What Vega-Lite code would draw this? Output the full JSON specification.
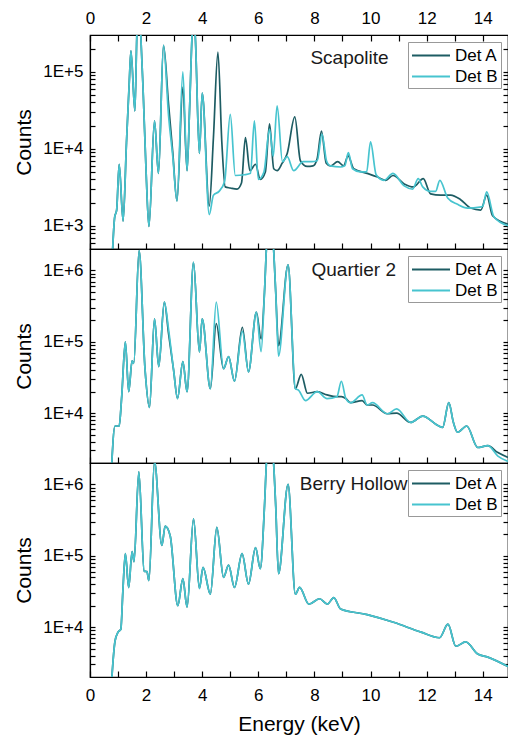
{
"$schema": "https://vega.github.io/schema/vega-lite/v6.json",
"padding": {"left": 13, "top": 8, "right": 0, "bottom": 0},
"autosize": {"type": "pad"},
"spacing": 0,
"bounds": "flush",
"config": {
  "font": "Liberation Sans",
  "view": {"stroke": "black", "strokeWidth": 1.2},
  "axis": {"grid": false, "domainColor": "black", "domainWidth": 1.2, "tickColor": "black", "tickWidth": 1.2, "labelColor": "black", "titleColor": "black", "labelFont": "Liberation Sans", "titleFont": "Liberation Sans", "titleFontWeight": "normal", "labelFontSize": 17, "labelFlush": false, "labelOverlap": false, "labelBound": false},
  "legend": {"labelFont": "Liberation Sans"}
},
"datasets": {
"scap": [
{"d":"Det A","E":0.78,"c":300},{"d":"Det A","E":0.88,"c":1300},{"d":"Det A","E":0.95,"c":1600},{"d":"Det A","E":1.04,"c":6300},{"d":"Det A","E":1.18,"c":1150},{"d":"Det A","E":1.3,"c":12000},{"d":"Det A","E":1.4,"c":74000},{"d":"Det A","E":1.46,"c":187000},{"d":"Det A","E":1.6,"c":31000},{"d":"Det A","E":1.67,"c":300000},{"d":"Det A","E":1.74,"c":700000},{"d":"Det A","E":1.81,"c":300000},{"d":"Det A","E":1.9,"c":50000},{"d":"Det A","E":2.0,"c":5000},{"d":"Det A","E":2.1,"c":980},{"d":"Det A","E":2.3,"c":23000},{"d":"Det A","E":2.44,"c":4800},{"d":"Det A","E":2.62,"c":220000},{"d":"Det A","E":2.8,"c":38000},{"d":"Det A","E":2.95,"c":9000},{"d":"Det A","E":3.1,"c":2100},{"d":"Det A","E":3.31,"c":63000},{"d":"Det A","E":3.46,"c":5200},{"d":"Det A","E":3.55,"c":33000},{"d":"Det A","E":3.64,"c":300000},{"d":"Det A","E":3.69,"c":500000},{"d":"Det A","E":3.75,"c":300000},{"d":"Det A","E":3.9,"c":8700},{"d":"Det A","E":4.0,"c":53000},{"d":"Det A","E":4.25,"c":1800},{"d":"Det A","E":4.4,"c":14000},{"d":"Det A","E":4.56,"c":180000},{"d":"Det A","E":4.7,"c":12000},{"d":"Det A","E":4.82,"c":3200},{"d":"Det A","E":5.0,"c":3100},{"d":"Det A","E":5.24,"c":3000},{"d":"Det A","E":5.4,"c":3600},{"d":"Det A","E":5.54,"c":14000},{"d":"Det A","E":5.7,"c":5200},{"d":"Det A","E":5.9,"c":6300},{"d":"Det A","E":6.07,"c":4000},{"d":"Det A","E":6.25,"c":5000},{"d":"Det A","E":6.4,"c":21000},{"d":"Det A","E":6.55,"c":5500},{"d":"Det A","E":6.67,"c":5200},{"d":"Det A","E":6.85,"c":6500},{"d":"Det A","E":7.03,"c":8700},{"d":"Det A","E":7.3,"c":26000},{"d":"Det A","E":7.5,"c":7000},{"d":"Det A","E":7.74,"c":5900},{"d":"Det A","E":7.95,"c":6000},{"d":"Det A","E":8.1,"c":7500},{"d":"Det A","E":8.25,"c":17000},{"d":"Det A","E":8.42,"c":6500},{"d":"Det A","E":8.57,"c":6000},{"d":"Det A","E":8.83,"c":6800},{"d":"Det A","E":9.04,"c":6000},{"d":"Det A","E":9.2,"c":8100},{"d":"Det A","E":9.4,"c":5500},{"d":"Det A","E":9.88,"c":4800},{"d":"Det A","E":10.25,"c":4300},{"d":"Det A","E":10.54,"c":3900},{"d":"Det A","E":10.8,"c":4500},{"d":"Det A","E":11.2,"c":3500},{"d":"Det A","E":11.53,"c":3200},{"d":"Det A","E":11.88,"c":4100},{"d":"Det A","E":12.14,"c":2600},{"d":"Det A","E":12.5,"c":2500},{"d":"Det A","E":12.86,"c":2500},{"d":"Det A","E":13.2,"c":2200},{"d":"Det A","E":13.57,"c":1700},{"d":"Det A","E":13.93,"c":1600},{"d":"Det A","E":14.14,"c":2500},{"d":"Det A","E":14.35,"c":1350},{"d":"Det A","E":14.9,"c":1050},
{"d":"Det B","E":0.78,"c":300},{"d":"Det B","E":0.88,"c":1300},{"d":"Det B","E":0.95,"c":1600},{"d":"Det B","E":1.04,"c":6300},{"d":"Det B","E":1.18,"c":1150},{"d":"Det B","E":1.3,"c":12000},{"d":"Det B","E":1.4,"c":74000},{"d":"Det B","E":1.46,"c":187000},{"d":"Det B","E":1.6,"c":31000},{"d":"Det B","E":1.67,"c":300000},{"d":"Det B","E":1.74,"c":700000},{"d":"Det B","E":1.81,"c":300000},{"d":"Det B","E":1.9,"c":50000},{"d":"Det B","E":2.0,"c":5000},{"d":"Det B","E":2.1,"c":980},{"d":"Det B","E":2.3,"c":23000},{"d":"Det B","E":2.44,"c":4800},{"d":"Det B","E":2.62,"c":220000},{"d":"Det B","E":2.8,"c":27000},{"d":"Det B","E":2.95,"c":8000},{"d":"Det B","E":3.1,"c":2100},{"d":"Det B","E":3.31,"c":100000},{"d":"Det B","E":3.46,"c":5200},{"d":"Det B","E":3.55,"c":33000},{"d":"Det B","E":3.64,"c":300000},{"d":"Det B","E":3.69,"c":500000},{"d":"Det B","E":3.75,"c":300000},{"d":"Det B","E":3.9,"c":8700},{"d":"Det B","E":4.0,"c":53000},{"d":"Det B","E":4.25,"c":1400},{"d":"Det B","E":4.4,"c":2500},{"d":"Det B","E":4.6,"c":2800},{"d":"Det B","E":4.8,"c":3800},{"d":"Det B","E":5.0,"c":28000},{"d":"Det B","E":5.18,"c":4500},{"d":"Det B","E":5.5,"c":4600},{"d":"Det B","E":5.72,"c":4800},{"d":"Det B","E":5.86,"c":23000},{"d":"Det B","E":6.0,"c":4000},{"d":"Det B","E":6.2,"c":5000},{"d":"Det B","E":6.4,"c":18000},{"d":"Det B","E":6.53,"c":8000},{"d":"Det B","E":6.67,"c":36000},{"d":"Det B","E":6.86,"c":6800},{"d":"Det B","E":7.03,"c":7900},{"d":"Det B","E":7.26,"c":5200},{"d":"Det B","E":7.6,"c":6800},{"d":"Det B","E":7.9,"c":6800},{"d":"Det B","E":8.1,"c":7000},{"d":"Det B","E":8.27,"c":15500},{"d":"Det B","E":8.43,"c":7000},{"d":"Det B","E":8.57,"c":6000},{"d":"Det B","E":8.93,"c":5800},{"d":"Det B","E":9.08,"c":6000},{"d":"Det B","E":9.21,"c":8900},{"d":"Det B","E":9.36,"c":5500},{"d":"Det B","E":9.64,"c":5000},{"d":"Det B","E":9.86,"c":5000},{"d":"Det B","E":10.0,"c":12300},{"d":"Det B","E":10.2,"c":4600},{"d":"Det B","E":10.48,"c":3900},{"d":"Det B","E":10.8,"c":4800},{"d":"Det B","E":11.2,"c":3300},{"d":"Det B","E":11.5,"c":3000},{"d":"Det B","E":11.7,"c":4100},{"d":"Det B","E":11.86,"c":3200},{"d":"Det B","E":12.14,"c":2800},{"d":"Det B","E":12.32,"c":2800},{"d":"Det B","E":12.47,"c":3900},{"d":"Det B","E":12.75,"c":2300},{"d":"Det B","E":13.1,"c":1900},{"d":"Det B","E":13.46,"c":1700},{"d":"Det B","E":13.9,"c":1750},{"d":"Det B","E":14.0,"c":1800},{"d":"Det B","E":14.14,"c":2750},{"d":"Det B","E":14.4,"c":1300},{"d":"Det B","E":14.9,"c":1000}
],
"quart": [
{"d":"Det A","E":0.76,"c":1500},{"d":"Det A","E":0.89,"c":6600},{"d":"Det A","E":1.04,"c":6600},{"d":"Det A","E":1.13,"c":17000},{"d":"Det A","E":1.26,"c":100000},{"d":"Det A","E":1.38,"c":20000},{"d":"Det A","E":1.5,"c":54000},{"d":"Det A","E":1.56,"c":50000},{"d":"Det A","E":1.75,"c":1900000},{"d":"Det A","E":1.96,"c":42000},{"d":"Det A","E":2.12,"c":12000},{"d":"Det A","E":2.3,"c":210000},{"d":"Det A","E":2.45,"c":45000},{"d":"Det A","E":2.65,"c":360000},{"d":"Det A","E":2.8,"c":130000},{"d":"Det A","E":2.98,"c":40000},{"d":"Det A","E":3.12,"c":16000},{"d":"Det A","E":3.31,"c":53000},{"d":"Det A","E":3.46,"c":20000},{"d":"Det A","E":3.69,"c":1300000},{"d":"Det A","E":3.9,"c":72000},{"d":"Det A","E":4.0,"c":210000},{"d":"Det A","E":4.29,"c":22000},{"d":"Det A","E":4.5,"c":180000},{"d":"Det A","E":4.76,"c":42000},{"d":"Det A","E":4.94,"c":62000},{"d":"Det A","E":5.15,"c":28000},{"d":"Det A","E":5.43,"c":160000},{"d":"Det A","E":5.65,"c":38000},{"d":"Det A","E":5.93,"c":260000},{"d":"Det A","E":6.1,"c":110000},{"d":"Det A","E":6.22,"c":500000},{"d":"Det A","E":6.3,"c":2500000},{"d":"Det A","E":6.42,"c":6000000},{"d":"Det A","E":6.53,"c":2500000},{"d":"Det A","E":6.62,"c":500000},{"d":"Det A","E":6.72,"c":88000},{"d":"Det A","E":7.06,"c":1200000},{"d":"Det A","E":7.32,"c":22000},{"d":"Det A","E":7.53,"c":35000},{"d":"Det A","E":7.75,"c":19000},{"d":"Det A","E":8.1,"c":20000},{"d":"Det A","E":8.45,"c":18000},{"d":"Det A","E":8.8,"c":17000},{"d":"Det A","E":8.96,"c":17000},{"d":"Det A","E":9.12,"c":16000},{"d":"Det A","E":9.29,"c":14000},{"d":"Det A","E":9.7,"c":15000},{"d":"Det A","E":9.88,"c":13000},{"d":"Det A","E":10.07,"c":13000},{"d":"Det A","E":10.6,"c":9800},{"d":"Det A","E":10.93,"c":10000},{"d":"Det A","E":11.43,"c":7400},{"d":"Det A","E":11.86,"c":9100},{"d":"Det A","E":12.4,"c":6700},{"d":"Det A","E":12.57,"c":6300},{"d":"Det A","E":12.79,"c":14000},{"d":"Det A","E":12.95,"c":7500},{"d":"Det A","E":13.1,"c":5400},{"d":"Det A","E":13.43,"c":6600},{"d":"Det A","E":13.82,"c":3300},{"d":"Det A","E":14.18,"c":3500},{"d":"Det A","E":14.54,"c":2800},{"d":"Det A","E":14.9,"c":2400},
{"d":"Det B","E":0.76,"c":1500},{"d":"Det B","E":0.89,"c":6600},{"d":"Det B","E":1.04,"c":6600},{"d":"Det B","E":1.13,"c":17000},{"d":"Det B","E":1.26,"c":100000},{"d":"Det B","E":1.38,"c":20000},{"d":"Det B","E":1.5,"c":54000},{"d":"Det B","E":1.56,"c":50000},{"d":"Det B","E":1.75,"c":1900000},{"d":"Det B","E":1.96,"c":42000},{"d":"Det B","E":2.12,"c":12000},{"d":"Det B","E":2.3,"c":210000},{"d":"Det B","E":2.45,"c":45000},{"d":"Det B","E":2.65,"c":360000},{"d":"Det B","E":2.8,"c":150000},{"d":"Det B","E":2.98,"c":40000},{"d":"Det B","E":3.12,"c":16000},{"d":"Det B","E":3.31,"c":53000},{"d":"Det B","E":3.46,"c":20000},{"d":"Det B","E":3.69,"c":1300000},{"d":"Det B","E":3.9,"c":72000},{"d":"Det B","E":4.0,"c":210000},{"d":"Det B","E":4.29,"c":22000},{"d":"Det B","E":4.5,"c":360000},{"d":"Det B","E":4.76,"c":42000},{"d":"Det B","E":4.94,"c":62000},{"d":"Det B","E":5.15,"c":28000},{"d":"Det B","E":5.43,"c":140000},{"d":"Det B","E":5.65,"c":38000},{"d":"Det B","E":5.93,"c":260000},{"d":"Det B","E":6.1,"c":73000},{"d":"Det B","E":6.22,"c":500000},{"d":"Det B","E":6.3,"c":2500000},{"d":"Det B","E":6.42,"c":6000000},{"d":"Det B","E":6.53,"c":2500000},{"d":"Det B","E":6.62,"c":500000},{"d":"Det B","E":6.72,"c":63000},{"d":"Det B","E":7.06,"c":1200000},{"d":"Det B","E":7.32,"c":22000},{"d":"Det B","E":7.43,"c":21000},{"d":"Det B","E":7.68,"c":15000},{"d":"Det B","E":8.1,"c":20000},{"d":"Det B","E":8.45,"c":16000},{"d":"Det B","E":8.8,"c":17000},{"d":"Det B","E":8.96,"c":28000},{"d":"Det B","E":9.12,"c":16000},{"d":"Det B","E":9.29,"c":14000},{"d":"Det B","E":9.7,"c":18000},{"d":"Det B","E":9.88,"c":13000},{"d":"Det B","E":10.07,"c":14000},{"d":"Det B","E":10.6,"c":9800},{"d":"Det B","E":10.93,"c":11500},{"d":"Det B","E":11.43,"c":7400},{"d":"Det B","E":11.86,"c":9100},{"d":"Det B","E":12.4,"c":6700},{"d":"Det B","E":12.57,"c":6300},{"d":"Det B","E":12.79,"c":14000},{"d":"Det B","E":12.95,"c":7500},{"d":"Det B","E":13.1,"c":5400},{"d":"Det B","E":13.43,"c":6600},{"d":"Det B","E":13.82,"c":3300},{"d":"Det B","E":14.18,"c":3500},{"d":"Det B","E":14.54,"c":2500},{"d":"Det B","E":14.9,"c":2100}
],
"berry": [
{"d":"Det A","E":0.76,"c":1500},{"d":"Det A","E":0.89,"c":6300},{"d":"Det A","E":1.0,"c":8500},{"d":"Det A","E":1.1,"c":9400},{"d":"Det A","E":1.17,"c":31000},{"d":"Det A","E":1.26,"c":107000},{"d":"Det A","E":1.38,"c":36000},{"d":"Det A","E":1.5,"c":115000},{"d":"Det A","E":1.57,"c":83000},{"d":"Det A","E":1.74,"c":1500000},{"d":"Det A","E":1.93,"c":61000},{"d":"Det A","E":2.03,"c":60000},{"d":"Det A","E":2.1,"c":45000},{"d":"Det A","E":2.3,"c":2100000},{"d":"Det A","E":2.56,"c":140000},{"d":"Det A","E":2.68,"c":260000},{"d":"Det A","E":2.86,"c":190000},{"d":"Det A","E":3.13,"c":20000},{"d":"Det A","E":3.31,"c":48000},{"d":"Det A","E":3.46,"c":19000},{"d":"Det A","E":3.69,"c":330000},{"d":"Det A","E":3.9,"c":35000},{"d":"Det A","E":4.03,"c":69000},{"d":"Det A","E":4.29,"c":29000},{"d":"Det A","E":4.52,"c":250000},{"d":"Det A","E":4.76,"c":50000},{"d":"Det A","E":4.94,"c":74000},{"d":"Det A","E":5.15,"c":36000},{"d":"Det A","E":5.42,"c":107000},{"d":"Det A","E":5.65,"c":40000},{"d":"Det A","E":5.9,"c":130000},{"d":"Det A","E":6.07,"c":66000},{"d":"Det A","E":6.22,"c":500000},{"d":"Det A","E":6.3,"c":2500000},{"d":"Det A","E":6.42,"c":6000000},{"d":"Det A","E":6.53,"c":2500000},{"d":"Det A","E":6.62,"c":500000},{"d":"Det A","E":6.72,"c":56000},{"d":"Det A","E":7.06,"c":1000000},{"d":"Det A","E":7.32,"c":29000},{"d":"Det A","E":7.47,"c":36000},{"d":"Det A","E":7.8,"c":21000},{"d":"Det A","E":8.18,"c":25000},{"d":"Det A","E":8.46,"c":21000},{"d":"Det A","E":8.69,"c":26000},{"d":"Det A","E":8.93,"c":18000},{"d":"Det A","E":9.88,"c":15000},{"d":"Det A","E":10.82,"c":11700},{"d":"Det A","E":11.8,"c":8500},{"d":"Det A","E":12.46,"c":7100},{"d":"Det A","E":12.76,"c":11000},{"d":"Det A","E":13.04,"c":5400},{"d":"Det A","E":13.39,"c":6200},{"d":"Det A","E":13.82,"c":4200},{"d":"Det A","E":14.18,"c":3800},{"d":"Det A","E":14.9,"c":2800},
{"d":"Det B","E":0.76,"c":1500},{"d":"Det B","E":0.89,"c":6300},{"d":"Det B","E":1.0,"c":8500},{"d":"Det B","E":1.1,"c":9400},{"d":"Det B","E":1.17,"c":31000},{"d":"Det B","E":1.26,"c":107000},{"d":"Det B","E":1.38,"c":36000},{"d":"Det B","E":1.5,"c":115000},{"d":"Det B","E":1.57,"c":83000},{"d":"Det B","E":1.74,"c":1500000},{"d":"Det B","E":1.93,"c":61000},{"d":"Det B","E":2.03,"c":60000},{"d":"Det B","E":2.1,"c":45000},{"d":"Det B","E":2.3,"c":2100000},{"d":"Det B","E":2.56,"c":140000},{"d":"Det B","E":2.68,"c":260000},{"d":"Det B","E":2.86,"c":190000},{"d":"Det B","E":3.13,"c":20000},{"d":"Det B","E":3.31,"c":48000},{"d":"Det B","E":3.46,"c":19000},{"d":"Det B","E":3.69,"c":330000},{"d":"Det B","E":3.9,"c":35000},{"d":"Det B","E":4.03,"c":69000},{"d":"Det B","E":4.29,"c":29000},{"d":"Det B","E":4.52,"c":250000},{"d":"Det B","E":4.76,"c":50000},{"d":"Det B","E":4.94,"c":74000},{"d":"Det B","E":5.15,"c":36000},{"d":"Det B","E":5.42,"c":107000},{"d":"Det B","E":5.65,"c":40000},{"d":"Det B","E":5.9,"c":130000},{"d":"Det B","E":6.07,"c":66000},{"d":"Det B","E":6.22,"c":500000},{"d":"Det B","E":6.3,"c":2500000},{"d":"Det B","E":6.42,"c":6000000},{"d":"Det B","E":6.53,"c":2500000},{"d":"Det B","E":6.62,"c":500000},{"d":"Det B","E":6.72,"c":56000},{"d":"Det B","E":7.06,"c":1000000},{"d":"Det B","E":7.32,"c":29000},{"d":"Det B","E":7.47,"c":36000},{"d":"Det B","E":7.8,"c":21000},{"d":"Det B","E":8.18,"c":25000},{"d":"Det B","E":8.46,"c":21000},{"d":"Det B","E":8.69,"c":26000},{"d":"Det B","E":8.93,"c":18000},{"d":"Det B","E":9.88,"c":15000},{"d":"Det B","E":10.82,"c":11700},{"d":"Det B","E":11.8,"c":8500},{"d":"Det B","E":12.46,"c":7100},{"d":"Det B","E":12.76,"c":11000},{"d":"Det B","E":13.04,"c":5400},{"d":"Det B","E":13.39,"c":6200},{"d":"Det B","E":13.82,"c":4200},{"d":"Det B","E":14.18,"c":3800},{"d":"Det B","E":14.9,"c":2800}
]
},
"resolve": {"scale": {"x": "independent", "y": "independent", "color": "independent"}, "legend": {"color": "independent"}},
"vconcat": [
{
  "width": 418, "height": 214,
  "data": {"name": "scap"},
  "resolve": {"axis": {"x": "independent", "y": "independent"}},
  "layer": [
    {
      "mark": {"type": "line", "interpolate": "monotone", "clip": true, "strokeWidth": 1.7},
      "encoding": {
        "x": {"field": "E", "type": "quantitative", "scale": {"domain": [0, 14.9], "nice": false, "zero": false},
              "axis": {"orient": "bottom", "values": [0,1,2,3,4,5,6,7,8,9,10,11,12,13,14], "labels": false, "title": null, "tickSize": -6}},
        "y": {"field": "c", "type": "quantitative", "scale": {"type": "log", "domain": [500, 300000], "nice": false},
              "axis": {"orient": "left", "values": [600,700,800,900,1000,2000,3000,4000,5000,6000,7000,8000,9000,10000,20000,30000,40000,50000,60000,70000,80000,90000,100000,200000],
                       "labelExpr": "indexof([1000,10000,100000,1000000], datum.value) >= 0 ? '1E+' + format(log(datum.value)/LN10, '.0f') : ''",
                       "title": "Counts", "titleFontSize": 21, "titlePadding": 8, "labelPadding": 12, "tickSize": -5}},
        "color": {"field": "d", "type": "nominal", "scale": {"domain": ["Det A", "Det B"], "range": ["#1d5c63", "#47c4cf"]},
                  "legend": {"title": null, "orient": "top-right", "offset": 7, "strokeColor": "#999999", "fillColor": "white", "padding": 3, "symbolType": "M-1,0H3", "symbolSize": 361, "symbolStrokeWidth": 1.8, "labelFontSize": 17, "labelColor": "black", "labelOffset": 23, "rowPadding": 2}}
      }
    },
    {
      "data": {"values": [{}]},
      "mark": {"type": "text", "fontSize": 19, "align": "center", "baseline": "middle", "color": "#1a1a1a"},
      "encoding": {
        "x": {"datum": 9.25, "type": "quantitative",
              "axis": {"orient": "top", "values": [0,1,2,3,4,5,6,7,8,9,10,11,12,13,14], "labelExpr": "datum.value % 2 === 0 ? datum.label : ''", "labelPadding": 14, "title": null, "tickSize": -6}},
        "y": {"datum": 150000, "type": "quantitative",
              "axis": {"orient": "right", "values": [600,700,800,900,1000,2000,3000,4000,5000,6000,7000,8000,9000,10000,20000,30000,40000,50000,60000,70000,80000,90000,100000,200000], "labels": false, "title": null, "tickSize": -5}},
        "text": {"value": "Scapolite"}
      }
    }
  ]
},
{
  "width": 418, "height": 214,
  "data": {"name": "quart"},
  "resolve": {"axis": {"x": "independent", "y": "independent"}},
  "layer": [
    {
      "mark": {"type": "line", "interpolate": "monotone", "clip": true, "strokeWidth": 1.7},
      "encoding": {
        "x": {"field": "E", "type": "quantitative", "scale": {"domain": [0, 14.9], "nice": false, "zero": false},
              "axis": {"orient": "bottom", "values": [0,1,2,3,4,5,6,7,8,9,10,11,12,13,14], "labels": false, "title": null, "tickSize": -6}},
        "y": {"field": "c", "type": "quantitative", "scale": {"type": "log", "domain": [2000, 2000000], "nice": false},
              "axis": {"orient": "left", "values": [3000,4000,5000,6000,7000,8000,9000,10000,20000,30000,40000,50000,60000,70000,80000,90000,100000,200000,300000,400000,500000,600000,700000,800000,900000,1000000],
                       "labelExpr": "indexof([1000,10000,100000,1000000], datum.value) >= 0 ? '1E+' + format(log(datum.value)/LN10, '.0f') : ''",
                       "title": "Counts", "titleFontSize": 21, "titlePadding": 8, "labelPadding": 12, "tickSize": -5}},
        "color": {"field": "d", "type": "nominal", "scale": {"domain": ["Det A", "Det B"], "range": ["#1d5c63", "#47c4cf"]},
                  "legend": {"title": null, "orient": "top-right", "offset": 7, "strokeColor": "#999999", "fillColor": "white", "padding": 3, "symbolType": "M-1,0H3", "symbolSize": 361, "symbolStrokeWidth": 1.8, "labelFontSize": 17, "labelColor": "black", "labelOffset": 23, "rowPadding": 2}}
      }
    },
    {
      "data": {"values": [{}]},
      "mark": {"type": "text", "fontSize": 19, "align": "center", "baseline": "middle", "color": "#1a1a1a"},
      "encoding": {
        "x": {"datum": 9.4, "type": "quantitative", "axis": null},
        "y": {"datum": 1000000, "type": "quantitative",
              "axis": {"orient": "right", "values": [3000,4000,5000,6000,7000,8000,9000,10000,20000,30000,40000,50000,60000,70000,80000,90000,100000,200000,300000,400000,500000,600000,700000,800000,900000,1000000], "labels": false, "title": null, "tickSize": -5}},
        "text": {"value": "Quartier 2"}
      }
    }
  ]
},
{
  "width": 418, "height": 214,
  "data": {"name": "berry"},
  "resolve": {"axis": {"x": "independent", "y": "independent"}},
  "layer": [
    {
      "mark": {"type": "line", "interpolate": "monotone", "clip": true, "strokeWidth": 1.7},
      "encoding": {
        "x": {"field": "E", "type": "quantitative", "scale": {"domain": [0, 14.9], "nice": false, "zero": false},
              "axis": {"orient": "bottom", "values": [0,1,2,3,4,5,6,7,8,9,10,11,12,13,14], "labelExpr": "datum.value % 2 === 0 ? datum.label : ''", "labelPadding": 16, "title": "Energy (keV)", "titleFontSize": 21, "titlePadding": 10, "tickSize": -6}},
        "y": {"field": "c", "type": "quantitative", "scale": {"type": "log", "domain": [2000, 2000000], "nice": false},
              "axis": {"orient": "left", "values": [3000,4000,5000,6000,7000,8000,9000,10000,20000,30000,40000,50000,60000,70000,80000,90000,100000,200000,300000,400000,500000,600000,700000,800000,900000,1000000],
                       "labelExpr": "indexof([1000,10000,100000,1000000], datum.value) >= 0 ? '1E+' + format(log(datum.value)/LN10, '.0f') : ''",
                       "title": "Counts", "titleFontSize": 21, "titlePadding": 8, "labelPadding": 12, "tickSize": -5}},
        "color": {"field": "d", "type": "nominal", "scale": {"domain": ["Det A", "Det B"], "range": ["#1d5c63", "#47c4cf"]},
                  "legend": {"title": null, "orient": "top-right", "offset": 7, "strokeColor": "#999999", "fillColor": "white", "padding": 3, "symbolType": "M-1,0H3", "symbolSize": 361, "symbolStrokeWidth": 1.8, "labelFontSize": 17, "labelColor": "black", "labelOffset": 23, "rowPadding": 2}}
      }
    },
    {
      "data": {"values": [{}]},
      "mark": {"type": "text", "fontSize": 19, "align": "center", "baseline": "middle", "color": "#1a1a1a"},
      "encoding": {
        "x": {"datum": 9.4, "type": "quantitative", "axis": null},
        "y": {"datum": 1000000, "type": "quantitative",
              "axis": {"orient": "right", "values": [3000,4000,5000,6000,7000,8000,9000,10000,20000,30000,40000,50000,60000,70000,80000,90000,100000,200000,300000,400000,500000,600000,700000,800000,900000,1000000], "labels": false, "title": null, "tickSize": -5}},
        "text": {"value": "Berry Hollow"}
      }
    }
  ]
}
]
}
